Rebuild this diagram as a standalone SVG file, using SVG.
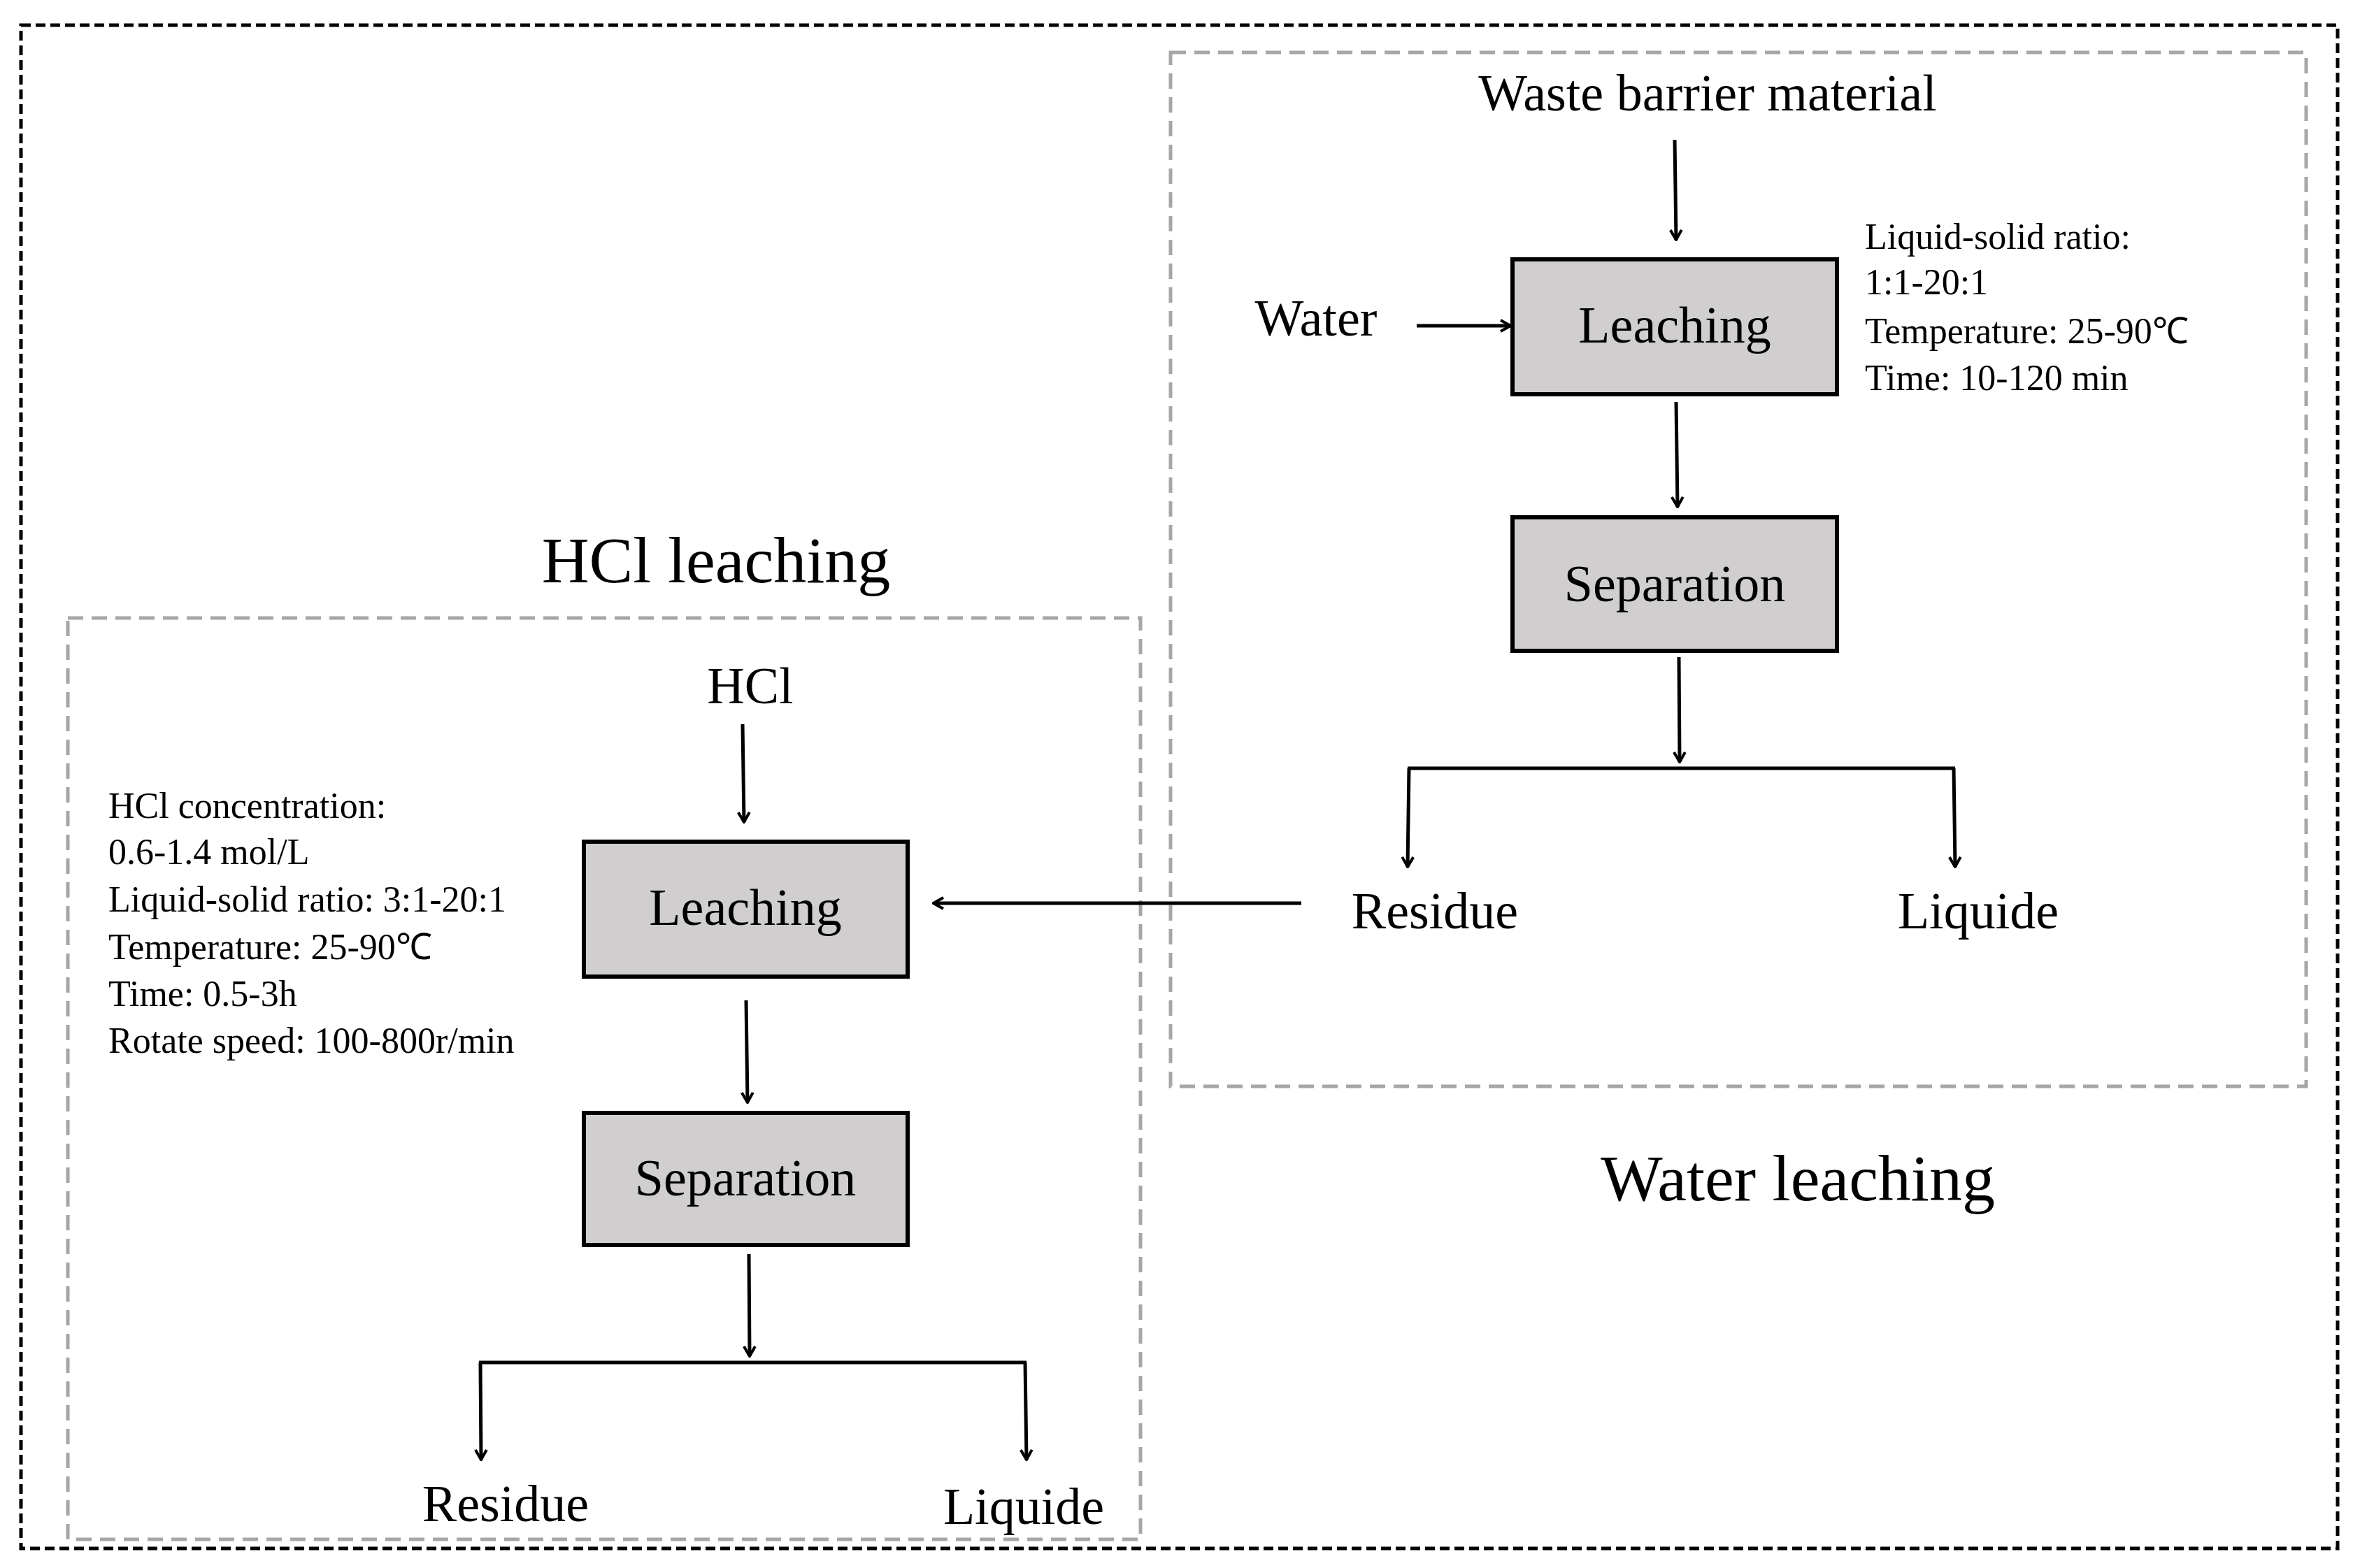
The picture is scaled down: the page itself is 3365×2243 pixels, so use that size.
<svg xmlns="http://www.w3.org/2000/svg" width="3365" height="2243" viewBox="0 0 3365 2243">
<defs>
<marker id="ah" viewBox="0 0 10 10" refX="9" refY="5" markerWidth="5" markerHeight="5" orient="auto" markerUnits="userSpaceOnUse" style="overflow:visible">
<path d="M0,0 L10,5 L0,10" fill="none" stroke="#000" stroke-width="1"/>
</marker>
<style>
text{font-family:"Liberation Serif","Times New Roman",serif;fill:#000}
.box{fill:#d0cece;stroke:#000;stroke-width:6}
.lbl{font-size:74px;text-anchor:middle}
.big{font-size:94px;text-anchor:middle}
.par{font-size:52px}
.c{fill:none;stroke:#000;stroke-width:5}
.a{fill:none;stroke:#000;stroke-width:5;marker-end:url(#a2)}
.grp{fill:none;stroke:#a6a6a6;stroke-width:5;stroke-dasharray:22 12}
</style>
<marker id="a2" viewBox="0 0 20 20" refX="18" refY="10" markerWidth="20" markerHeight="20" orient="auto" markerUnits="userSpaceOnUse">
<path d="M4,2 L18,10 L4,18" fill="none" stroke="#000" stroke-width="4"/>
</marker>
</defs>
<rect width="3365" height="2243" fill="#fff"/>
<rect x="30" y="36" width="3313" height="2179" fill="none" stroke="#000" stroke-width="5" stroke-dasharray="14 7"/>
<g id="water-group">
<rect class="grp" x="1674" y="75" width="1624" height="1479"/>
<text class="big" x="2571" y="1717">Water leaching</text>
</g>
<g id="hcl-group">
<rect class="grp" x="97" y="884" width="1534" height="1318"/>
<text class="big" x="1024" y="833">HCl leaching</text>
</g>
<g id="waste"><text class="lbl" x="2442" y="158">Waste barrier material</text></g>
<g id="water"><text class="lbl" x="1882" y="480">Water</text></g>
<g id="w-leach"><rect class="box" x="2163" y="371" width="464" height="193"/><text class="lbl" x="2395" y="490">Leaching</text></g>
<g id="w-params">
<text class="par" x="2667" y="356">Liquid-solid ratio:</text>
<text class="par" x="2667" y="421">1:1-20:1</text>
<text class="par" x="2667" y="491">Temperature: 25-90℃</text>
<text class="par" x="2667" y="558">Time: 10-120 min</text>
</g>
<g id="w-sep"><rect class="box" x="2163" y="740" width="464" height="191"/><text class="lbl" x="2395" y="860">Separation</text></g>
<g id="w-residue"><text class="lbl" x="2052" y="1328">Residue</text></g>
<g id="w-liquide"><text class="lbl" x="2829" y="1328">Liquide</text></g>
<g id="hcl"><text class="lbl" x="1073" y="1006">HCl</text></g>
<g id="h-leach"><rect class="box" x="835" y="1204" width="463" height="193"/><text class="lbl" x="1066" y="1323">Leaching</text></g>
<g id="h-params">
<text class="par" x="155" y="1170">HCl concentration:</text>
<text class="par" x="155" y="1236">0.6-1.4 mol/L</text>
<text class="par" x="155" y="1304">Liquid-solid ratio: 3:1-20:1</text>
<text class="par" x="155" y="1372">Temperature: 25-90℃</text>
<text class="par" x="155" y="1439">Time: 0.5-3h</text>
<text class="par" x="155" y="1506">Rotate speed: 100-800r/min</text>
</g>
<g id="h-sep"><rect class="box" x="835" y="1592" width="463" height="189"/><text class="lbl" x="1066" y="1710">Separation</text></g>
<g id="h-residue"><text class="lbl" x="723" y="2176">Residue</text></g>
<g id="h-liquide"><text class="lbl" x="1464" y="2180">Liquide</text></g>
<g id="connectors">
<path class="a" d="M2395,200 L2397,343"/>
<path class="a" d="M2026,466 L2160,466"/>
<path class="a" d="M2397,575 L2399,725"/>
<path class="a" d="M2401,940 L2402,1090"/>
<path class="c" d="M2013,1099 L2796,1099"/>
<path class="a" d="M2015,1099 L2013,1240"/>
<path class="a" d="M2794,1099 L2796,1240"/>
<path class="a" d="M1861,1292 L1335,1292"/>
<path class="a" d="M1062,1036 L1064,1176"/>
<path class="a" d="M1067,1431 L1069,1577"/>
<path class="a" d="M1071,1794 L1072,1940"/>
<path class="c" d="M685,1949 L1468,1949"/>
<path class="a" d="M687,1949 L688,2088"/>
<path class="a" d="M1466,1949 L1468,2088"/>
</g>
</svg>
